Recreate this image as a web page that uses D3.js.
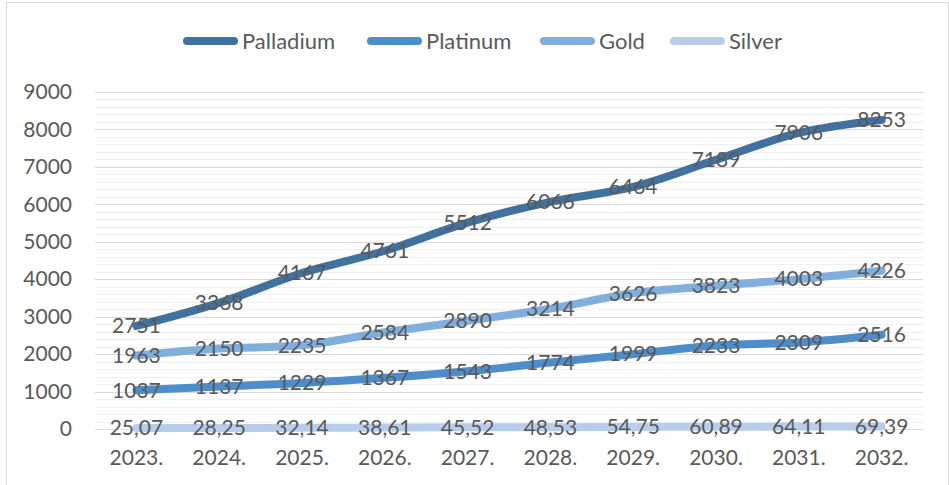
<!DOCTYPE html>
<html lang="en">
<head>
  <meta charset="UTF-8">
  <title>Precious metals</title>
  <script src="https://d3js.org/d3.v7.min.js"></script>
  <style>
    body { margin: 0; padding: 0; background: #fff; }
    svg { display: block; font-family: Lato, "Open Sans", sans-serif; }
  </style>
</head>
<body>
  <div id="chart"></div>
  <script>
    const years = ["2023.", "2024.", "2025.", "2026.", "2027.", "2028.", "2029.", "2030.", "2031.", "2032."];
    const palladium = [2751, 3368, 4167, 4761, 5512, 6066, 6464, 7189, 7906, 8253];
    const platinum = [1037, 1137, 1229, 1367, 1543, 1774, 1999, 2233, 2309, 2516];
    const gold = [1963, 2150, 2235, 2584, 2890, 3214, 3626, 3823, 4003, 4226];
    const silver = [25.07, 28.25, 32.14, 38.61, 45.52, 48.53, 54.75, 60.89, 64.11, 69.39];
    const yTicks = [0, 1000, 2000, 3000, 4000, 5000, 6000, 7000, 8000, 9000];

    const series = [
      { name: "Palladium", values: palladium, color: "#41729F" },
      { name: "Platinum", values: platinum, color: "#4E8DC9" },
      { name: "Gold", values: gold, color: "#80AEDD" },
      { name: "Silver", values: silver, color: "#B7CDEA" }
    ];

    const width = 949, height = 485;
    const svg = d3.select("#chart").append("svg")
      .attr("width", width)
      .attr("height", height);

    // chart border
    svg.append("rect")
      .attr("x", 6.5).attr("y", 2.5)
      .attr("width", 942).attr("height", 500)
      .attr("fill", "none").attr("stroke", "#D9D9D9");

    const x = d3.scaleBand().domain(years).range([95, 923]);
    const y = d3.scaleLinear().domain([0, 9000]).range([429, 92]);
    const cx = d => x(d) + x.bandwidth() / 2;

    // minor gridlines
    svg.append("g").selectAll("line")
      .data(d3.range(0, 9001, 200).filter(v => v % 1000 !== 0))
      .join("line")
      .attr("x1", 95).attr("x2", 923)
      .attr("y1", d => Math.round(y(d)) + 0.5).attr("y2", d => Math.round(y(d)) + 0.5)
      .attr("stroke", "#F0F0F0").attr("stroke-width", 1.2);

    // major gridlines
    svg.append("g").selectAll("line")
      .data(yTicks)
      .join("line")
      .attr("x1", 95).attr("x2", 923)
      .attr("y1", d => Math.round(y(d)) + 0.5).attr("y2", d => Math.round(y(d)) + 0.5)
      .attr("stroke", "#D9D9D9").attr("stroke-width", 1.2);

    // y axis labels
    const yAxis = svg.append("g")
      .attr("transform", "translate(72,0)")
      .call(d3.axisLeft(y).tickValues(yTicks).tickFormat(d3.format("d")).tickSize(0).tickPadding(0));
    yAxis.select(".domain").remove();
    yAxis.selectAll("text")
      .attr("fill", "#595959").attr("font-size", 21)
      .attr("font-family", "Lato, sans-serif");

    // x axis labels
    const xAxis = svg.append("g")
      .attr("transform", "translate(0,450)")
      .call(d3.axisBottom(x).tickSize(0).tickPadding(0));
    xAxis.select(".domain").remove();
    xAxis.selectAll("text")
      .attr("fill", "#595959").attr("font-size", 21)
      .attr("font-family", "Lato, sans-serif");

    const line = d3.line()
      .x((d, i) => cx(years[i]))
      .y(d => y(d))
      .curve(d3.curveCatmullRom.alpha(0.5));

    // draw from bottom (silver) to top so palladium is on top
    svg.append("g").selectAll("path")
      .data(series.slice().reverse())
      .join("path")
      .attr("d", d => line(d.values))
      .attr("fill", "none")
      .attr("stroke", d => d.color)
      .attr("stroke-width", 8)
      .attr("stroke-linecap", "round")
      .attr("stroke-linejoin", "round");

    // data labels, centered on the points
    const fmt = v => Number.isInteger(v) ? String(v) : v.toFixed(2).replace(".", ",");
    series.forEach(s => {
      svg.append("g").selectAll("text")
        .data(s.values)
        .join("text")
        .attr("x", (d, i) => cx(years[i]))
        .attr("y", d => y(d))
        .attr("dy", "0.35em")
        .attr("text-anchor", "middle")
        .attr("font-size", 21)
        .attr("fill", "#595959")
        .text(fmt);
    });

    // legend
    const legendX = [183, 367, 540, 670];
    const legend = svg.append("g").selectAll("g")
      .data(series)
      .join("g")
      .attr("transform", (d, i) => `translate(${legendX[i]},41)`);
    legend.append("line")
      .attr("x1", 4).attr("x2", 51)
      .attr("stroke", d => d.color)
      .attr("stroke-width", 8)
      .attr("stroke-linecap", "round");
    legend.append("text")
      .attr("x", 59)
      .attr("dy", "0.35em")
      .attr("font-size", 22)
      .attr("fill", "#595959")
      .text(d => d.name);
  </script>
</body>
</html>
